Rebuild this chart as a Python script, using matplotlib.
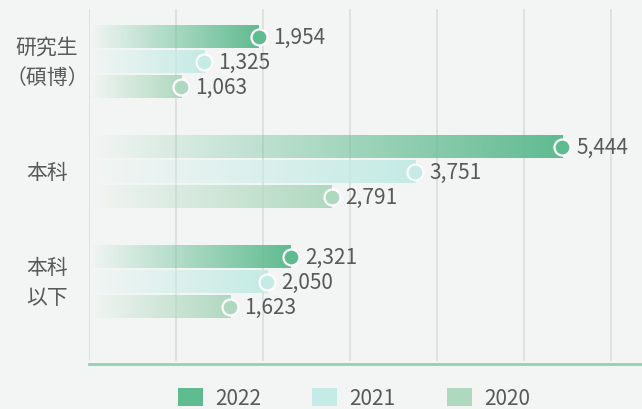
import numpy as np
import matplotlib
matplotlib.use("Agg")
import matplotlib.pyplot as plt
from matplotlib.patches import Patch
from matplotlib.transforms import blended_transform_factory

plt.rcParams['font.family'] = ['Noto Sans CJK TC', 'DejaVu Sans']

# datos
categorias = ["研究生\n（碩博）", "本科", "本科\n以下"]
anios = ["2022", "2021", "2020"]
v2022 = [1954, 5444, 2321]
v2021 = [1325, 3751, 2050]
v2020 = [1063, 2791, 1623]
series = [v2022, v2021, v2020]
colores = ["#5fbb90", "#c4ebe5", "#afd9bf"]

fondo = "#f3f5f4"
texto = "#595959"

fig = plt.figure(figsize=(6.42, 4.10), dpi=100, facecolor=fondo)
ax = fig.add_axes([89/642, 1-365/410, 553/642, 355/410], facecolor=fondo)

ax.set_xlim(0, 6360)
ax.set_ylim(2.745, -0.48)

# lineas de grilla
for x in range(0, 7000, 1000):
    ax.axvline(x, ymin=0.01, ymax=1, color="#dcdedd", lw=1.2, zorder=0)

desplaz = [-0.227, 0, 0.227]
alto = 0.2
for s, (vals, col) in enumerate(zip(series, colores)):
    rgb = matplotlib.colors.to_rgb(col)
    for i, v in enumerate(vals):
        y = i + desplaz[s]
        # barra con degradado (transparente a la izquierda)
        img = np.zeros((1, 256, 4))
        img[..., :3] = rgb
        img[..., 3] = np.linspace(0.0, 1.0, 256)
        ax.imshow(img, extent=(0, v, y + alto/2, y - alto/2), aspect="auto",
                  interpolation="bilinear", zorder=2)
        ax.plot(v, y, "o", ms=11.5, mfc=col, mec="white", mew=1.6, zorder=3)
        ax.text(v + 160, y, f"{v:,}", va="center", ha="left", fontsize=15,
                color=texto, zorder=4)

# recuperar limites tras imshow
ax.set_xlim(0, 6360)
ax.set_ylim(2.745, -0.48)

for sp in ["top", "right", "left"]:
    ax.spines[sp].set_visible(False)
ax.spines["bottom"].set_color("#93d1b3")
ax.spines["bottom"].set_linewidth(2)
ax.set_xticks([])
ax.set_yticks([])

tr = blended_transform_factory(ax.transAxes, ax.transData)
for i, c in enumerate(categorias):
    ax.text(-42/553, i, c, ha="center", va="center", fontsize=15,
            color=texto, linespacing=1.45, transform=tr)

handles = [Patch(facecolor=c, edgecolor="none") for c in colores]
fig.legend(handles, anios, loc="center", bbox_to_anchor=(354/642, 1-399/410),
           ncol=3, frameon=False, fontsize=15, labelcolor=texto,
           handlelength=1.2, handleheight=0.95, handletextpad=0.6,
           columnspacing=2.45)

fig.savefig("out.png", dpi=100, facecolor=fondo)
